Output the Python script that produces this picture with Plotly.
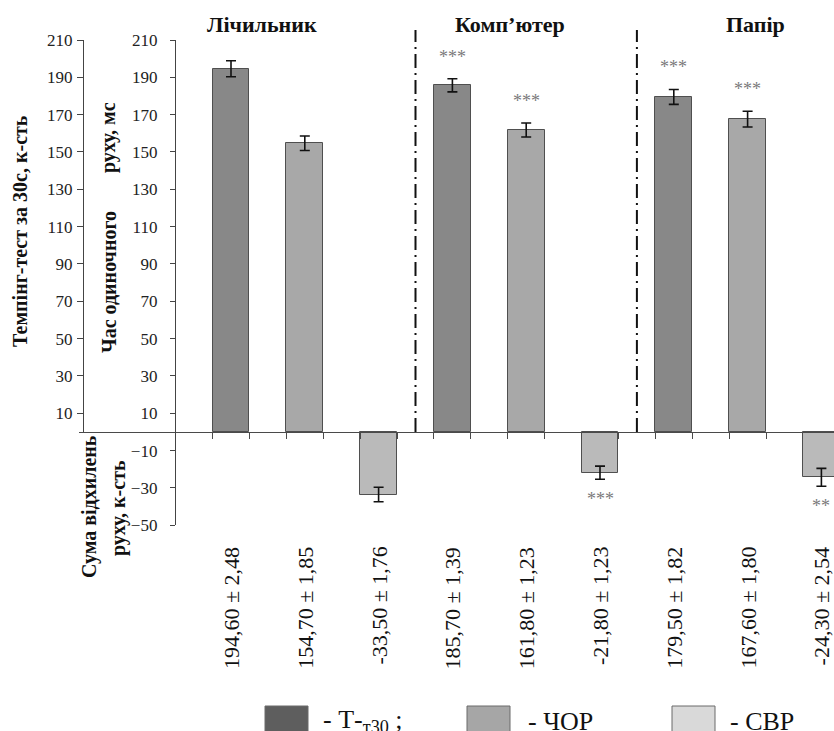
import plotly.graph_objects as go

W, H = 834, 731

def px(xp):
    return xp / W

def py(yp):
    return (H - yp) / H

# ---------------- data ----------------
groups = ["Лічильник", "Комп’ютер", "Папір"]
t30 = [194.6, 185.7, 179.5]
t30_sem = [2.48, 1.39, 1.82]
t30_err = [4.3, 3.5, 4.0]
chor = [154.7, 161.8, 167.6]
chor_sem = [1.85, 1.23, 1.80]
chor_err = [3.9, 3.75, 4.2]
svr = [-33.5, -21.8, -24.3]
svr_sem = [1.76, 1.23, 2.54]
svr_err = [3.9, 3.5, 4.8]
stars_t30 = ["", "***", "***"]
stars_chor = ["", "***", "***"]
stars_svr = ["", "***", "**"]
y_ticks_main = [-50, -30, -10, 10, 30, 50, 70, 90, 110, 130, 150, 170, 190, 210]
y_ticks_outer = [10, 30, 50, 70, 90, 110, 130, 150, 170, 190, 210]
legend_labels = ["- Т-<sub>т30</sub> ;", "- ЧОР", "- СВР"]
legend_colors = ["#5e5e5e", "#a6a6a6", "#d9d9d9"]

FONT = "Liberation Serif"
bar_colors = ["#888888", "#a8a8a8", "#bababa"]
series = [(t30, t30_sem, t30_err, stars_t30),
          (chor, chor_sem, chor_err, stars_chor),
          (svr, svr_sem, svr_err, stars_svr)]

# layout geometry
ymin, ymax = -50, 210
ydom = [py(525.3), py(40)]
p_zero = ydom[0] + (0 - ymin) / (ymax - ymin) * (ydom[1] - ydom[0])
x_first, x_step = 231.0, 73.8
xrange_ = [(79 - x_first) / x_step, (W - x_first) / x_step]

fig = go.Figure()
annotations = []

def ann(**kw):
    base = dict(showarrow=False, xanchor="center", yanchor="middle")
    base.update(kw)
    annotations.append(base)

for m, (vals, sems, errs, stars) in enumerate(series):
    xs = [3 * g + m for g in range(len(groups))]
    fig.add_trace(go.Bar(
        x=xs, y=vals, width=0.5,
        marker=dict(color=bar_colors[m], line=dict(color="#4f4f4f", width=1)),
        error_y=dict(type="data", array=errs, visible=True,
                     color="#111111", thickness=1.6, width=5),
        showlegend=False, hoverinfo="skip", cliponaxis=False,
    ))
    for x, v, s, e, st in zip(xs, vals, sems, errs, stars):
        lab = f"{v:.2f} ± {s:.2f}".replace(".", ",")
        ann(x=x, xref="x", y=py(545), yref="paper", text=lab, textangle=-90,
            yanchor="top", font=dict(family=FONT, size=22, color="#111111"))
        if st:
            up = v >= 0
            ann(x=x, xref="x", y=v + (e if up else -e), yref="y", text=st,
                yshift=22 if up else -20,
                font=dict(family=FONT, size=18, color="#7a7a7a"))

# invisible trace for the outer axis subplot
fig.add_trace(go.Scatter(x=[0], y=[0], xaxis="x", yaxis="y2", mode="markers",
                         marker=dict(opacity=0), showlegend=False, hoverinfo="skip"))

# group titles
title_x = [262, 510, 755]
for g, tx in zip(groups, title_x):
    ann(x=px(tx), y=py(24), xref="paper", yref="paper", text=f"<b>{g}</b>",
        font=dict(family=FONT, size=22, color="#111111"))

# axis titles
tfont = dict(family=FONT, size=20, color="#111111")
ann(x=px(20), y=py(231), xref="paper", yref="paper", textangle=-90,
    text="<b>Темпінг-тест за 30с, к-сть</b>", font=tfont)
ann(x=px(109), y=py(138), xref="paper", yref="paper", textangle=-90,
    text="<b>руху, мс</b>", font=tfont)
ann(x=px(109), y=py(282), xref="paper", yref="paper", textangle=-90,
    text="<b>Час одиночного</b>", font=tfont)
ann(x=px(89), y=py(507), xref="paper", yref="paper", textangle=-90,
    text="<b>Сума відхилень</b>", font=tfont)
ann(x=px(118), y=py(508), xref="paper", yref="paper", textangle=-90,
    text="<b>руху, к-сть</b>", font=tfont)

# legend (drawn manually)
shapes = []
box_x = [265, 467, 672]
text_x = [321, 526, 728]
for lx, tx, col, lab in zip(box_x, text_x, legend_colors, legend_labels):
    shapes.append(dict(type="rect", xref="paper", yref="paper",
                       x0=px(lx), x1=px(lx + 43), y0=py(745), y1=py(706),
                       fillcolor=col, line=dict(color="#6a6a6a", width=1)))
    ann(x=px(tx), y=py(721), xref="paper", yref="paper", text=lab, xanchor="left",
        font=dict(family=FONT, size=26, color="#111111"))

# dash-dot dividers between groups
for g in range(1, len(groups)):
    xd = 3 * g - 0.5
    shapes.append(dict(type="line", xref="x", yref="paper", x0=xd, x1=xd,
                       y0=p_zero, y1=py(30),
                       line=dict(color="#111111", width=2, dash="14px,5px,2px,5px")))

tick_font = dict(family=FONT, size=17, color="#222222")
edge_ticks = []
for i in range(9):
    edge_ticks += [i - 0.25, i + 0.25]

fig.update_layout(
    width=W, height=H, autosize=False,
    margin=dict(l=0, r=0, t=0, b=0),
    paper_bgcolor="white", plot_bgcolor="rgba(0,0,0,0)",
    bargap=0, barmode="overlay",
    xaxis=dict(domain=[px(79), 1], range=xrange_, anchor="free", position=p_zero,
               showgrid=False, zeroline=False, showline=True,
               linecolor="#4a4a4a", linewidth=1.4,
               tickmode="array", tickvals=edge_ticks, ticks="outside",
               ticklen=6, tickcolor="#4a4a4a", tickwidth=1.2,
               showticklabels=False, automargin=False),
    yaxis=dict(domain=ydom, range=[ymin, ymax], anchor="free", position=px(175),
               showgrid=False, zeroline=False, showline=True,
               linecolor="#444444", linewidth=1.3,
               tickmode="array", tickvals=y_ticks_main, ticks="outside",
               ticklen=5, tickcolor="#444444", tickwidth=1.2,
               ticklabelstandoff=9,
               tickfont=tick_font, automargin=False),
    yaxis2=dict(domain=[p_zero, ydom[1]], range=[0, ymax], anchor="free",
                position=px(83), showgrid=False, zeroline=False, showline=True,
                linecolor="#444444", linewidth=1.3,
                tickmode="array", tickvals=y_ticks_outer, ticks="outside",
                ticklen=6, tickcolor="#444444", tickwidth=1.2,
                ticklabelstandoff=1,
                tickfont=tick_font, automargin=False),
    annotations=annotations,
    shapes=shapes,
)

fig.write_html("out.html")
